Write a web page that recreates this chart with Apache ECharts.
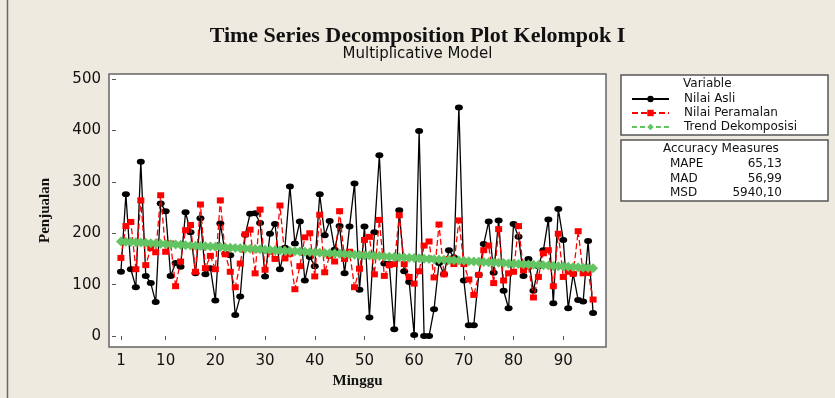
<!DOCTYPE html>
<html>
<head>
<meta charset="utf-8">
<script src="https://cdn.jsdelivr.net/npm/echarts@6/dist/echarts.min.js"></script>
<style>
  html, body { margin: 0; padding: 0; background: #eeeae0; }
  #chart { width: 835px; height: 398px; }
</style>
</head>
<body>
<div id="chart"></div>
<script>
// minggu 1..96
const weeks = [];
for (let i = 1; i <= 96; i++) weeks.push(i);

const nilaiAsli = [
  125, 276, 130, 95, 339, 117, 103, 66, 258, 243,
  117, 142, 135, 241, 202, 122, 229, 120, 132, 69,
  219, 160, 157, 41, 77, 197, 238, 239, 220, 116,
  199, 218, 130, 172, 291, 180, 223, 108, 154, 136,
  276, 196, 224, 168, 214, 122, 213, 297, 90, 213,
  36, 202, 352, 141, 140, 13, 245, 126, 105, 2,
  399, 0, 0, 52, 142, 120, 167, 153, 445, 108,
  21, 21, 119, 179, 223, 123, 225, 88, 54, 218,
  193, 117, 150, 88, 136, 167, 227, 64, 247, 187,
  54, 121, 70, 67, 185, 45
];

const nilaiPeramalan = [
  152, 214, 222, 130, 264, 138, 171, 163, 274, 164,
  180, 97, 145, 206, 216, 125, 256, 132, 156, 130,
  264, 159, 125, 95, 141, 198, 207, 122, 246, 129,
  164, 150, 254, 151, 160, 91, 136, 192, 200, 116,
  236, 124, 156, 145, 243, 150, 164, 95, 131, 187,
  193, 120, 226, 117, 138, 140, 235, 140, 115, 102,
  126, 176, 184, 114, 217, 120, 150, 140, 225, 140,
  110, 80, 119, 167, 176, 103, 208, 108, 122, 125,
  214, 128, 135, 75, 115, 161, 167, 97, 199, 115,
  125, 121, 204, 122, 123, 71
];

const trendDekomposisi = [
  184.0, 183.5, 182.9, 182.4, 181.8, 181.3, 180.7, 180.2, 179.6, 179.1,
  178.5, 178.0, 177.4, 176.9, 176.3, 175.8, 175.2, 174.7, 174.2, 173.6,
  173.1, 172.5, 172.0, 171.4, 170.9, 170.3, 169.8, 169.2, 168.7, 168.1,
  167.6, 167.0, 166.5, 165.9, 165.4, 164.9, 164.3, 163.8, 163.2, 162.7,
  162.1, 161.6, 161.0, 160.5, 159.9, 159.4, 158.8, 158.3, 157.7, 157.2,
  156.6, 156.1, 155.6, 155.0, 154.5, 153.9, 153.4, 152.8, 152.3, 151.7,
  151.2, 150.6, 150.1, 149.5, 149.0, 148.4, 147.9, 147.3, 146.8, 146.3,
  145.7, 145.2, 144.6, 144.1, 143.5, 143.0, 142.4, 141.9, 141.3, 140.8,
  140.2, 139.7, 139.1, 138.6, 138.0, 137.5, 137.0, 136.4, 135.9, 135.3,
  134.8, 134.2, 133.7, 133.1, 132.6, 132.0
];

const xTicks = [1, 10, 20, 30, 40, 50, 60, 70, 80, 90];
const yTicks = [0, 100, 200, 300, 400, 500];

const accuracy = [
  ['MAPE', '65,13'],
  ['MAD', '56,99'],
  ['MSD', '5940,10']
];

const pair = arr => arr.map((v, i) => [weeks[i], v]);
const SANS = 'DejaVu Sans';
const SERIF = 'Liberation Serif';

const chart = echarts.init(document.getElementById('chart'), null, {renderer: 'canvas'});

const accTexts = [];
accuracy.forEach((row, k) => {
  accTexts.push({
    type: 'text', left: 670, top: 158 + k * 14.5,
    style: {text: row[0], font: '12px ' + SANS, fill: '#111'}
  });
  accTexts.push({
    type: 'text', right: 835 - 782, top: 158 + k * 14.5,
    style: {text: row[1], font: '12px ' + SANS, fill: '#111', textAlign: 'right'}
  });
});

const option = {
  animation: false,
  backgroundColor: '#eeeae0',
  title: {
    text: 'Time Series Decomposition Plot Kelompok I',
    subtext: 'Multiplicative Model',
    left: 'center',
    top: 20,
    itemGap: 0,
    textStyle: {fontFamily: SERIF, fontWeight: 'bold', fontSize: 22, color: '#111'},
    subtextStyle: {fontFamily: SANS, fontSize: 15, color: '#111'}
  },
  grid: {
    left: 109, right: 229, top: 74, bottom: 51,
    show: true, backgroundColor: '#fff', borderColor: '#666', borderWidth: 1.5
  },
  legend: {
    orient: 'vertical',
    left: 631, top: 92,
    padding: 0, itemGap: 0,
    itemWidth: 37, itemHeight: 8,
    textStyle: {fontFamily: SANS, fontSize: 12, color: '#111', lineHeight: 14, padding: [0, 0, 0, 10]},
    data: ['Nilai Asli', 'Nilai Peramalan', 'Trend Dekomposisi']
  },
  xAxis: {
    type: 'value', min: -1.4, max: 98.6,
    name: 'Minggu', nameLocation: 'middle', nameGap: 27,
    nameTextStyle: {fontFamily: SERIF, fontWeight: 'bold', fontSize: 15, color: '#111'},
    axisLine: {show: false},
    axisTick: {show: true, length: 4, lineStyle: {color: '#555'}, customValues: xTicks},
    axisLabel: {fontFamily: SANS, fontSize: 15, color: '#111', margin: 7, customValues: xTicks},
    splitLine: {show: false}
  },
  yAxis: {
    type: 'value', min: -21.4, max: 510,
    name: 'Penjualan', nameLocation: 'middle', nameGap: 56, nameRotate: 90,
    nameTextStyle: {fontFamily: SERIF, fontWeight: 'bold', fontSize: 15, color: '#111'},
    axisLine: {show: false},
    axisTick: {show: true, length: 4, lineStyle: {color: '#555'}, customValues: yTicks},
    axisLabel: {fontFamily: SANS, fontSize: 15, color: '#111', margin: 8, customValues: yTicks},
    splitLine: {show: false}
  },
  series: [
    {
      name: 'Nilai Asli', type: 'line', data: pair(nilaiAsli),
      symbol: 'circle', symbolSize: [8, 6],
      itemStyle: {color: '#000'},
      lineStyle: {color: '#000', width: 1.3},
      z: 2
    },
    {
      name: 'Nilai Peramalan', type: 'line', data: pair(nilaiPeramalan),
      symbol: 'rect', symbolSize: [7, 6],
      itemStyle: {color: '#ff0000'},
      lineStyle: {color: '#ff0000', width: 1.3, type: [6, 3]},
      z: 3
    },
    {
      name: 'Trend Dekomposisi', type: 'line', data: pair(trendDekomposisi),
      symbol: 'diamond', symbolSize: 10,
      itemStyle: {color: '#62c462'},
      lineStyle: {color: '#62c462', width: 4, type: [5, 3]},
      z: 4
    }
  ],
  graphic: [
    {type: 'line', shape: {x1: 7.5, y1: 0, x2: 7.5, y2: 398}, style: {stroke: '#666', lineWidth: 1.5}},
    {type: 'rect', shape: {x: 621, y: 75, width: 207, height: 60}, style: {fill: '#fff', stroke: '#555', lineWidth: 1.5}, z: -1},
    {type: 'rect', shape: {x: 621, y: 140, width: 207, height: 61}, style: {fill: '#fff', stroke: '#555', lineWidth: 1.5}, z: -1},
    {type: 'text', left: 683, top: 78, style: {text: 'Variable', font: '12px ' + SANS, fill: '#111'}},
    {type: 'text', left: 663, top: 143, style: {text: 'Accuracy Measures', font: '12px ' + SANS, fill: '#111'}}
  ].concat(accTexts)
};

chart.setOption(option);
</script>
</body>
</html>
